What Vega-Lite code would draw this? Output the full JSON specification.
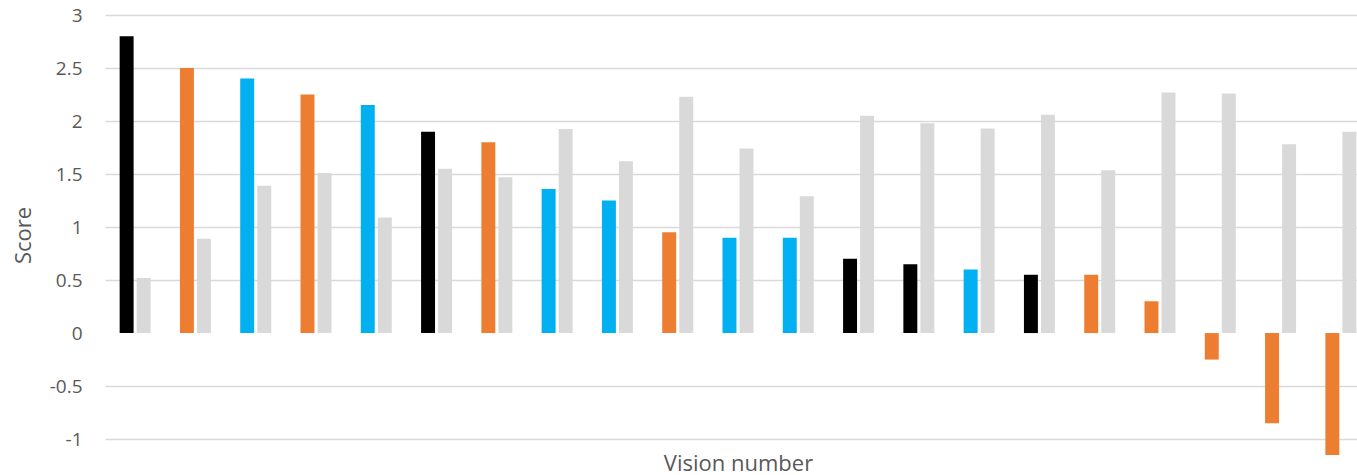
{
  "$schema": "https://vega.github.io/schema/vega-lite/v6.json",
  "autosize": {"type": "none"},
  "width": 1252,
  "height": 440,
  "padding": {"left": 105, "top": 15, "right": 0, "bottom": 20},
  "background": "white",
  "config": {
    "view": {"stroke": null},
    "font": "Open Sans"
  },
  "data": {
    "values": [
      {"vision": 1, "series": "Primary", "group": "A", "score": 2.8},
      {"vision": 1, "series": "Comparison", "group": "Comparison", "score": 0.52},
      {"vision": 2, "series": "Primary", "group": "B", "score": 2.5},
      {"vision": 2, "series": "Comparison", "group": "Comparison", "score": 0.89},
      {"vision": 3, "series": "Primary", "group": "C", "score": 2.4},
      {"vision": 3, "series": "Comparison", "group": "Comparison", "score": 1.39},
      {"vision": 4, "series": "Primary", "group": "B", "score": 2.25},
      {"vision": 4, "series": "Comparison", "group": "Comparison", "score": 1.51},
      {"vision": 5, "series": "Primary", "group": "C", "score": 2.15},
      {"vision": 5, "series": "Comparison", "group": "Comparison", "score": 1.09},
      {"vision": 6, "series": "Primary", "group": "A", "score": 1.9},
      {"vision": 6, "series": "Comparison", "group": "Comparison", "score": 1.55},
      {"vision": 7, "series": "Primary", "group": "B", "score": 1.8},
      {"vision": 7, "series": "Comparison", "group": "Comparison", "score": 1.47},
      {"vision": 8, "series": "Primary", "group": "C", "score": 1.36},
      {"vision": 8, "series": "Comparison", "group": "Comparison", "score": 1.925},
      {"vision": 9, "series": "Primary", "group": "C", "score": 1.25},
      {"vision": 9, "series": "Comparison", "group": "Comparison", "score": 1.62},
      {"vision": 10, "series": "Primary", "group": "B", "score": 0.95},
      {"vision": 10, "series": "Comparison", "group": "Comparison", "score": 2.23},
      {"vision": 11, "series": "Primary", "group": "C", "score": 0.9},
      {"vision": 11, "series": "Comparison", "group": "Comparison", "score": 1.74},
      {"vision": 12, "series": "Primary", "group": "C", "score": 0.9},
      {"vision": 12, "series": "Comparison", "group": "Comparison", "score": 1.29},
      {"vision": 13, "series": "Primary", "group": "A", "score": 0.7},
      {"vision": 13, "series": "Comparison", "group": "Comparison", "score": 2.05},
      {"vision": 14, "series": "Primary", "group": "A", "score": 0.65},
      {"vision": 14, "series": "Comparison", "group": "Comparison", "score": 1.98},
      {"vision": 15, "series": "Primary", "group": "C", "score": 0.6},
      {"vision": 15, "series": "Comparison", "group": "Comparison", "score": 1.93},
      {"vision": 16, "series": "Primary", "group": "A", "score": 0.55},
      {"vision": 16, "series": "Comparison", "group": "Comparison", "score": 2.06},
      {"vision": 17, "series": "Primary", "group": "B", "score": 0.55},
      {"vision": 17, "series": "Comparison", "group": "Comparison", "score": 1.535},
      {"vision": 18, "series": "Primary", "group": "B", "score": 0.3},
      {"vision": 18, "series": "Comparison", "group": "Comparison", "score": 2.27},
      {"vision": 19, "series": "Primary", "group": "B", "score": -0.25},
      {"vision": 19, "series": "Comparison", "group": "Comparison", "score": 2.26},
      {"vision": 20, "series": "Primary", "group": "B", "score": -0.85},
      {"vision": 20, "series": "Comparison", "group": "Comparison", "score": 1.78},
      {"vision": 21, "series": "Primary", "group": "B", "score": -1.15},
      {"vision": 21, "series": "Comparison", "group": "Comparison", "score": 1.9}
    ]
  },
  "mark": {"type": "bar", "clip": true},
  "encoding": {
    "x": {
      "field": "vision",
      "type": "ordinal",
      "scale": {"range": [0, 1266], "paddingInner": 0.486, "paddingOuter": 0.243},
      "axis": {
        "title": "Vision number",
        "labels": false,
        "ticks": false,
        "domain": false,
        "titleFont": "Open Sans",
        "titleFontSize": 22,
        "titleFontWeight": "normal",
        "titleColor": "#595959",
        "titlePadding": -2
      }
    },
    "xOffset": {
      "field": "series",
      "type": "nominal",
      "sort": ["Primary", "Comparison"],
      "scale": {"paddingInner": 0.18, "paddingOuter": 0}
    },
    "y": {
      "field": "score",
      "type": "quantitative",
      "scale": {"domain": [-1.15, 3], "nice": false, "zero": true},
      "axis": {
        "title": "Score",
        "values": [-1, -0.5, 0, 0.5, 1, 1.5, 2, 2.5, 3],
        "labelExpr": "replace(format(datum.value, '~g'), '\u2212', '-')",
        "ticks": false,
        "domain": false,
        "labelFont": "Open Sans",
        "labelFontSize": 19,
        "labelColor": "#595959",
        "labelPadding": 23,
        "titleFont": "Open Sans",
        "titleFontSize": 22,
        "titleFontWeight": "normal",
        "titleColor": "#595959",
        "titlePadding": 14,
        "gridColor": {"condition": {"test": "datum.value === 0", "value": "transparent"}, "value": "#D9D9D9"},
        "gridWidth": 1.3
      }
    },
    "color": {
      "field": "group",
      "type": "nominal",
      "scale": {"domain": ["A", "B", "C", "Comparison"], "range": ["#000000", "#ED7D31", "#00B0F0", "#D9D9D9"]},
      "legend": null
    }
  }
}
